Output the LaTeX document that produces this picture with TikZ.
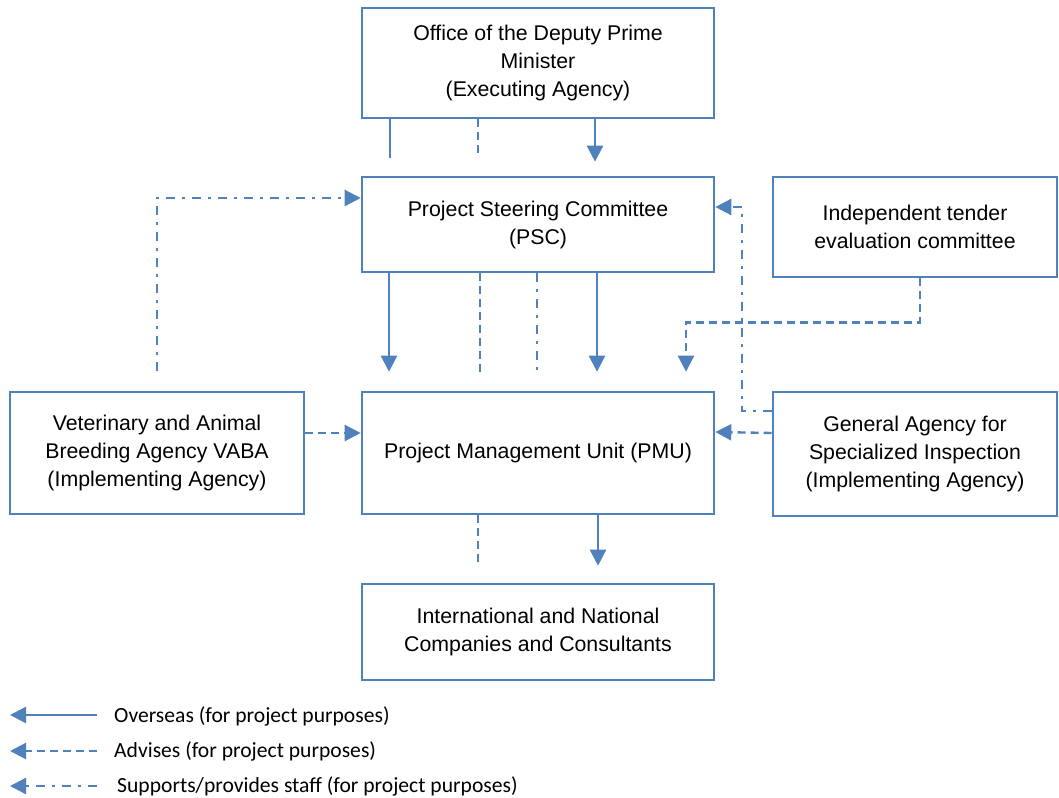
\documentclass[tikz,border=0pt]{standalone}
\usepackage{fontspec}
\setmainfont{Liberation Sans}
\newfontfamily\keyfont{Carlito}
\usetikzlibrary{positioning}
\usetikzlibrary{calc}
\usetikzlibrary{arrows.meta}
\definecolor{orgblue}{HTML}{4F81BD}
\tikzset{
	every path/.style={line width=2.4pt},
	unit/.style={draw=orgblue, line width=2.6pt, align=center, inner sep=0pt,
		font=\fontsize{21.3}{28}\selectfont},
	oversees/.style={draw=orgblue},
	advises/.style={draw=orgblue, dash pattern=on 8pt off 5pt},
	supports/.style={draw=orgblue, dash pattern=on 9pt off 7pt on 3pt off 7pt},
	tip/.style={-{Triangle[length=16pt,width=16pt]}, orgblue},
	keytext/.style={anchor=west, inner sep=0pt, font=\keyfont\fontsize{21.6}{26}\selectfont},
}

\begin{document}
\begin{tikzpicture}[x=1pt,y=-1pt]
			\useasboundingbox (0,0) rectangle (1059,797);
			
			% boxes.....................
			\node [unit, minimum width=352pt, minimum height=110pt] (office) at (538,63)
				{Office of the Deputy Prime\\Minister\\(Executing Agency)};
			\node [unit, minimum width=352pt, minimum height=95pt] (psc) at (538,224.5)
				{Project Steering Committee\\(PSC)};
			\node [unit, minimum width=284pt, minimum height=100pt] (tender) at (915,227)
				{Independent tender\\evaluation committee};
			\node [unit, minimum width=294pt, minimum height=122pt] (vet) at (157,453)
				{Veterinary and Animal\\Breeding Agency VABA\\(Implementing Agency)};
			\node [unit, minimum width=352pt, minimum height=122pt] (pmu) at (538,453)
				{Project Management Unit (PMU)};
			\node [unit, minimum width=284pt, minimum height=124pt] (gasi) at (915,454)
				{General Agency for\\Specialized Inspection\\(Implementing Agency)};
			\node [unit, minimum width=352pt, minimum height=96pt] (intl) at (538,632)
				{International and National\\Companies and Consultants};
			
			% office to PSC.....................
			\draw [oversees, shorten >=18pt] ([xshift=-148pt]office.south) -- ([xshift=-148pt]psc.north);
			\draw [advises, shorten >=20pt] ([xshift=-60pt]office.south) -- ([xshift=-60pt]psc.north);
			\draw [oversees, tip, shorten >=14pt] ([xshift=57pt]office.south) -- ([xshift=57pt]psc.north);
			
			% PSC to PMU.....................
			\draw [oversees, tip, shorten >=19pt] ([xshift=-149pt]psc.south) -- ([xshift=-149pt]pmu.north);
			\draw [advises, shorten >=19pt] ([xshift=-58pt]psc.south) -- ([xshift=-58pt]pmu.north);
			\draw [supports, shorten >=19pt] ([xshift=-1pt]psc.south) -- ([xshift=-1pt]pmu.north);
			\draw [oversees, tip, shorten >=19pt] ([xshift=59pt]psc.south) -- ([xshift=59pt]pmu.north);
			
			% VABA supports PSC.....................
			\draw [supports, tip, shorten <=20pt] (vet.north) |- ([yshift=26.5pt]psc.west);
			
			% tender committee advises PMU.....................
			\draw [advises, tip, shorten >=19pt] ([xshift=5pt]tender.south) -- ++(0,44) -| ([xshift=148pt]pmu.north);
			
			% inspection agency.....................
			\draw [supports, tip] ([yshift=43pt]gasi.west) -- ++(-30,0) |- ([yshift=17.5pt]psc.east);
			\draw [advises, tip] ([yshift=21pt]gasi.west) -- ([yshift=21pt]pmu.east);
			
			% VABA advises PMU.....................
			\draw [advises, tip] ([yshift=20pt]vet.east) -- ([yshift=20pt]pmu.west);
			
			% PMU to consultants.....................
			\draw [advises, shorten >=17pt] ([xshift=-60pt]pmu.south) -- ([xshift=-60pt]intl.north);
			\draw [oversees, tip, shorten >=17pt] ([xshift=60pt]pmu.south) -- ([xshift=60pt]intl.north);
			
			% key.....................
			\node [keytext] (keyover) at (113,716) {Overseas (for project purposes)};
			\node [keytext] (keyadv) at (113,751) {Advises (for project purposes)};
			\node [keytext] (keysup) at (116,786) {Supports/provides staff (for project purposes)};
			\coordinate (endover) at (10,715);
			\coordinate (endadv) at (10,751);
			\coordinate (endsup) at (10,786);
			\draw [oversees, tip] ([xshift=-16pt]keyover.west |- endover) -- (endover);
			\draw [advises, tip] ([xshift=-16pt]keyadv.west |- endadv) -- (endadv);
			\draw [supports, tip] ([xshift=-19pt]keysup.west |- endsup) -- (endsup);
		\end{tikzpicture}
\end{document}
